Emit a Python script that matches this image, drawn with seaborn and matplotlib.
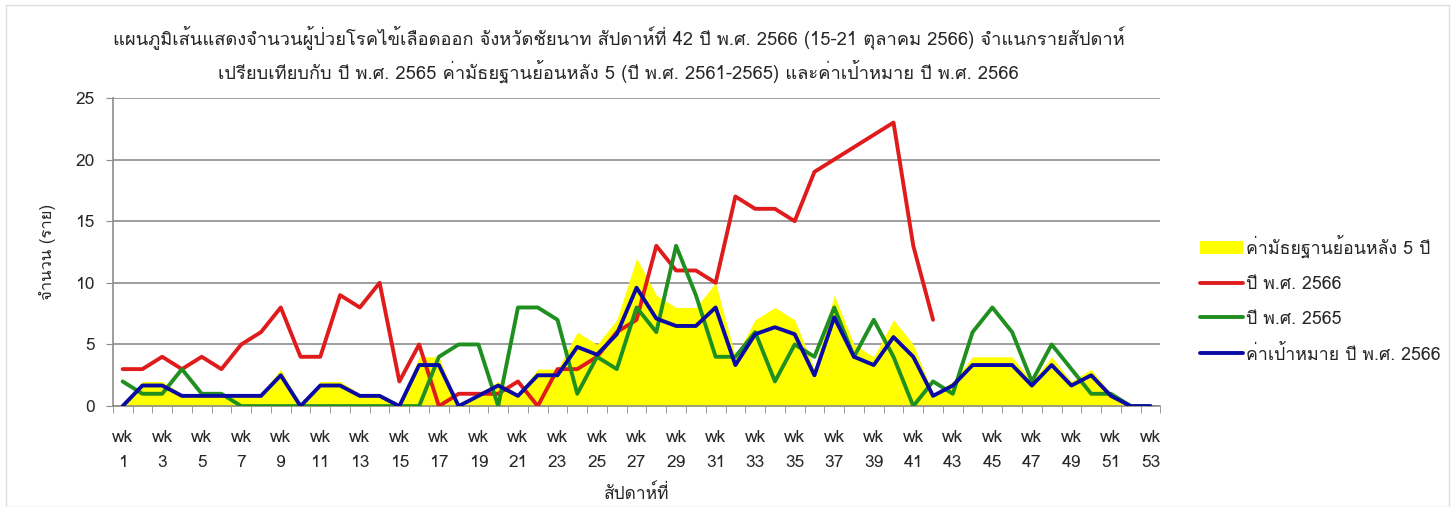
# weekly dengue cases chart, Chai Nat province, week 42 / 2566

import matplotlib
matplotlib.use('Agg')
import matplotlib.pyplot as plt
import seaborn as sns
import numpy as np
import pandas as pd
from matplotlib import font_manager
from matplotlib.ft2font import FT2Font
from matplotlib.patches import Patch, Rectangle
from matplotlib.lines import Line2D

weeks = list(range(1, 54))

# median of previous 5 years (yellow area)
median_5y = [0, 2, 2, 1, 1, 1, 1, 1, 3, 0, 2, 2, 1, 1, 0, 4, 4, 0, 1, 2,
             1, 3, 3, 6, 5, 7, 12, 9, 8, 8, 10, 4, 7, 8, 7, 3, 9, 5, 4, 7,
             5, 1, 2, 4, 4, 4, 2, 4, 2, 3, 1, 0, 0]

# year 2566 (up to week 42)
cases_2566 = [3, 3, 4, 3, 4, 3, 5, 6, 8, 4, 4, 9, 8, 10, 2, 5, 0, 1, 1, 1,
              2, 0, 3, 3, 4, 6, 7, 13, 11, 11, 10, 17, 16, 16, 15, 19, 20, 21, 22, 23,
              13, 7]

# year 2565
cases_2565 = [2, 1, 1, 3, 1, 1, 0, 0, 0, 0, 0, 0, 0, 0, 0, 0, 4, 5, 5, 0,
              8, 8, 7, 1, 4, 3, 8, 6, 13, 9, 4, 4, 6, 2, 5, 4, 8, 4, 7, 4,
              0, 2, 1, 6, 8, 6, 2, 5, 3, 1, 1, 0, 0]

# target 2566
target_2566 = [0, 1.67, 1.67, 0.83, 0.83, 0.83, 0.83, 0.83, 2.5, 0, 1.67, 1.67, 0.83, 0.83,
               0, 3.33, 3.33, 0, 0.83, 1.67, 0.83, 2.5, 2.5, 4.8, 4.17, 5.83, 9.6, 7.1,
               6.5, 6.5, 8, 3.33, 5.83, 6.4, 5.83, 2.5, 7.2, 4.0, 3.33, 5.6, 4.0, 0.83,
               1.67, 3.33, 3.33, 3.33, 1.67, 3.33, 1.67, 2.5, 0.83, 0, 0]

lbl_median = 'ค่ามัธยฐานย้อนหลัง 5 ปี'
lbl_2566 = 'ปี พ.ศ. 2566'
lbl_2565 = 'ปี พ.ศ. 2565'
lbl_target = 'ค่าเป้าหมาย ปี พ.ศ. 2566'

title = ('แผนภูมิเส้นแสดงจำนวนผู้ป่วยโรคไข้เลือดออก จังหวัดชัยนาท สัปดาห์ที่ 42 ปี พ.ศ. 2566 (15-21 ตุลาคม 2566) จำแนกรายสัปดาห์\n'
         'เปรียบเทียบกับ ปี พ.ศ. 2565 ค่ามัธยฐานย้อนหลัง 5 (ปี พ.ศ. 2561-2565) และค่าเป้าหมาย ปี พ.ศ. 2566')

colors = {lbl_2566: '#e01b1b', lbl_2565: '#1f8f1f', lbl_target: '#0a0aa5'}


def thai_font():
    '''first installed family that has Thai glyphs'''
    for f in font_manager.fontManager.ttflist:
        try:
            if 0x0E01 in FT2Font(f.fname).get_charmap():
                return f.name
        except Exception:
            pass
    return 'DejaVu Sans'


sns.set_style('white')
plt.rcParams['font.family'] = [thai_font(), 'DejaVu Sans']

df = pd.concat([
    pd.DataFrame({'week': weeks[:len(cases_2566)], 'value': cases_2566, 'series': lbl_2566}),
    pd.DataFrame({'week': weeks, 'value': cases_2565, 'series': lbl_2565}),
    pd.DataFrame({'week': weeks, 'value': target_2566, 'series': lbl_target}),
])

fig = plt.figure(figsize=(14.55, 5.07), dpi=100)
ax = fig.add_axes([0.0775, 0.199, 0.72, 0.608])

ax.fill_between(weeks, median_5y, color='#ffff00', lw=0, zorder=1)
sns.lineplot(data=df, x='week', y='value', hue='series', palette=colors,
             hue_order=[lbl_2566, lbl_2565, lbl_target], linewidth=2.8,
             legend=False, ax=ax, zorder=3)

ax.set_xlim(0.5, 53.5)
ax.set_ylim(0, 25)
ax.set_yticks(range(0, 26, 5))
ax.yaxis.grid(True, color='#8c8c8c', lw=1.2)
ax.set_axisbelow(True)

ax.set_xticks(range(1, 54, 2))
ax.set_xticklabels([f'wk\n{w}' for w in range(1, 54, 2)], linespacing=1.75)
ax.set_xticks(np.arange(0.5, 54, 1), minor=True)
ax.tick_params(axis='x', which='major', length=0, pad=17, labelsize=12.5)
ax.tick_params(axis='x', which='minor', length=5, color='#8c8c8c', direction='out', bottom=True)
ax.tick_params(axis='y', length=5, color='#8c8c8c', pad=8, labelsize=12.5, left=True)

for s in ['top', 'right']:
    ax.spines[s].set_visible(False)
for s in ['left', 'bottom']:
    ax.spines[s].set_color('#8c8c8c')
    ax.spines[s].set_linewidth(1.2)

ax.set_xlabel('สัปดาห์ที่', fontsize=12.5, labelpad=10)
ax.set_ylabel('จำนวน (ราย)', fontsize=12, labelpad=14)
fig.text(0.425, 0.893, title, ha='center', va='center', fontsize=13.2, linespacing=1.55)

handles = [Patch(facecolor='#ffff00', edgecolor='none', label=lbl_median),
           Line2D([], [], color=colors[lbl_2566], lw=2.8, label=lbl_2566),
           Line2D([], [], color=colors[lbl_2565], lw=2.8, label=lbl_2565),
           Line2D([], [], color=colors[lbl_target], lw=2.8, label=lbl_target)]
fig.legend(handles=handles, loc='center left', bbox_to_anchor=(0.814, 0.41),
           frameon=False, fontsize=12.8, handlelength=2.4, handletextpad=0.15,
           labelspacing=0.95)

# light frame around the picture
fig.patches.append(Rectangle((0.004, 0.0), 0.992, 0.99, transform=fig.transFigure,
                             fill=False, edgecolor='#dcdcdc', lw=1))

fig.savefig('out.png', dpi=100)
